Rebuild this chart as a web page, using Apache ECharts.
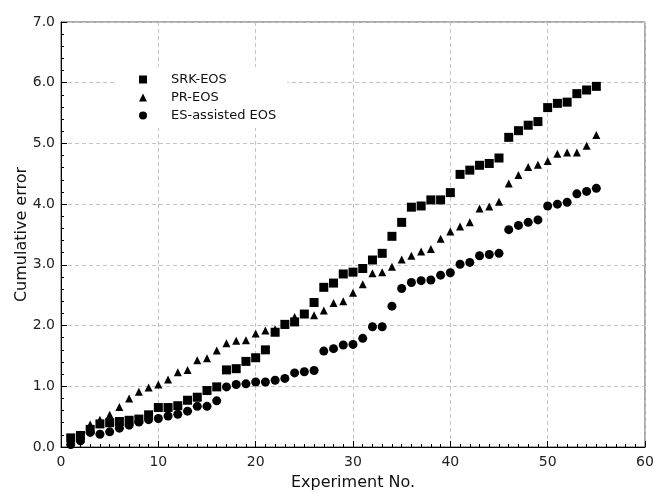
<!DOCTYPE html>
<html>
<head>
<meta charset="utf-8">
<script src="https://cdn.jsdelivr.net/npm/echarts@6/dist/echarts.min.js"></script>
<style>
  html, body { margin: 0; padding: 0; background: #fff; }
  #main { width: 654px; height: 493px; }
</style>
</head>
<body>
<div id="main"></div>
<script>
var expNo = [];
for (var i = 1; i <= 55; i++) expNo.push(i);

var srkEos = [0.15, 0.19, 0.29, 0.38, 0.40, 0.42, 0.44, 0.46, 0.53, 0.65,
  0.65, 0.68, 0.77, 0.82, 0.93, 0.99, 1.27, 1.29, 1.41, 1.47,
  1.60, 1.89, 2.02, 2.06, 2.19, 2.38, 2.63, 2.70, 2.85, 2.88,
  2.94, 3.08, 3.19, 3.47, 3.70, 3.95, 3.97, 4.07, 4.07, 4.19,
  4.49, 4.56, 4.64, 4.67, 4.76, 5.10, 5.21, 5.30, 5.36, 5.59,
  5.66, 5.68, 5.82, 5.88, 5.94];

var prEos = [0.12, 0.20, 0.37, 0.45, 0.53, 0.66, 0.80, 0.91, 0.98, 1.03,
  1.11, 1.23, 1.27, 1.43, 1.46, 1.59, 1.71, 1.75, 1.76, 1.87,
  1.92, 1.94, 2.01, 2.14, 2.19, 2.17, 2.25, 2.37, 2.40, 2.54,
  2.68, 2.86, 2.88, 2.97, 3.09, 3.15, 3.22, 3.26, 3.43, 3.55,
  3.63, 3.70, 3.93, 3.96, 4.04, 4.34, 4.48, 4.61, 4.65, 4.71,
  4.83, 4.85, 4.85, 4.96, 5.14];

var esEos = [0.04, 0.10, 0.24, 0.21, 0.25, 0.31, 0.36, 0.41, 0.45, 0.47,
  0.51, 0.54, 0.59, 0.67, 0.67, 0.76, 0.99, 1.03, 1.04, 1.07,
  1.07, 1.10, 1.13, 1.22, 1.24, 1.26, 1.58, 1.62, 1.68, 1.69,
  1.79, 1.98, 1.98, 2.32, 2.61, 2.71, 2.74, 2.75, 2.83, 2.87,
  3.01, 3.04, 3.15, 3.17, 3.19, 3.58, 3.65, 3.70, 3.74, 3.97,
  4.00, 4.03, 4.17, 4.21, 4.26];

function pairs(ys) {
  return ys.map(function (y, k) { return [expNo[k], y]; });
}

var font = 'DejaVu Sans';
var myChart = echarts.init(document.getElementById('main'));

var option = {
  animation: false,
  textStyle: { fontFamily: font },
  grid: {
    left: 61, right: 9, top: 22, bottom: 46,
    outerBoundsMode: 'none',
    show: true, borderColor: '#555', borderWidth: 1
  },
  legend: {
    orient: 'vertical',
    left: 115, top: 67,
    padding: [4, 11, 4, 24],
    backgroundColor: '#fff',
    itemWidth: 8, itemHeight: 8,
    itemGap: 1,
    textStyle: {
      fontFamily: font, fontSize: 13, color: '#111', lineHeight: 17,
      padding: [0, 0, 0, 19]
    },
    data: [
      { name: 'SRK-EOS', icon: 'rect' },
      { name: 'PR-EOS', icon: 'triangle' },
      { name: 'ES-assisted EOS', icon: 'circle' }
    ]
  },
  xAxis: {
    type: 'value',
    min: 0, max: 60, interval: 10,
    name: 'Experiment No.',
    nameLocation: 'middle',
    nameGap: 28,
    nameTextStyle: { fontFamily: font, fontSize: 16, color: '#111' },
    axisLine: { lineStyle: { color: '#000', width: 1 } },
    axisTick: { inside: true, length: 6, lineStyle: { color: '#000' } },
    minorTick: { show: true, splitNumber: 10, length: 3, lineStyle: { color: '#000' } },
    axisLabel: { fontFamily: font, fontSize: 14, color: '#222', margin: 8 },
    splitLine: { show: true, lineStyle: { color: '#c4c4c4', type: [4, 3] } }
  },
  yAxis: {
    type: 'value',
    min: 0, max: 7, interval: 1,
    name: 'Cumulative error',
    nameLocation: 'middle',
    nameRotate: 90,
    nameGap: 31,
    nameMoveOverlap: false,
    nameTextStyle: { fontFamily: font, fontSize: 16, color: '#111' },
    axisLine: { show: true, lineStyle: { color: '#000', width: 1 } },
    axisTick: { show: true, inside: true, length: 6, lineStyle: { color: '#000' } },
    minorTick: { show: true, splitNumber: 5, length: 3, lineStyle: { color: '#000' } },
    axisLabel: {
      fontFamily: font, fontSize: 14, color: '#222', margin: 6,
      formatter: function (v) { return v.toFixed(1); }
    },
    splitLine: { show: true, lineStyle: { color: '#c4c4c4', type: [4, 3] } }
  },
  series: [
    {
      name: 'SRK-EOS', type: 'scatter', symbol: 'rect', symbolSize: 9,
      itemStyle: { color: '#000', opacity: 1 }, data: pairs(srkEos)
    },
    {
      name: 'PR-EOS', type: 'scatter', symbol: 'triangle', symbolSize: 8,
      itemStyle: { color: '#000', opacity: 1 }, data: pairs(prEos)
    },
    {
      name: 'ES-assisted EOS', type: 'scatter', symbol: 'circle', symbolSize: 9,
      itemStyle: { color: '#000', opacity: 1 }, data: pairs(esEos)
    }
  ]
};
myChart.setOption(option);
</script>
</body>
</html>
